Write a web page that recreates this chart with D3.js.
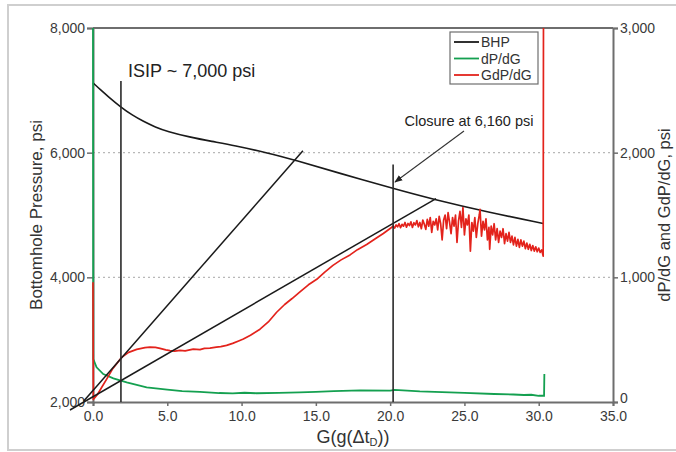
<!DOCTYPE html>
<html>
<head>
<meta charset="utf-8">
<script src="https://cdn.jsdelivr.net/npm/d3@7"></script>
<style>
  html, body { margin: 0; padding: 0; background: #fff; }
  svg { display: block; font-family: "Liberation Sans", Arial, Helvetica, sans-serif; }
</style>
</head>
<body>
<svg id="chart" width="676" height="452"></svg>
<script>
// ---------- data ----------
const xTicks = [0, 5, 10, 15, 20, 25, 30, 35];
const leftTicks = [2000, 4000, 6000, 8000];
const rightTicks = [0, 1000, 2000, 3000];
const gridValues = [4000, 6000];

// Bottomhole pressure [G, psi]
const bhp = [
  [0, 7120], [0.5, 7010], [1.0, 6905], [1.9, 6725], [2.6, 6610], [3.4, 6500],
  [4.2, 6410], [5.0, 6340], [6.5, 6250], [8.0, 6180], [9.5, 6115], [11.7, 6000],
  [13.6, 5880], [16.6, 5670], [20.2, 5424], [22.95, 5248], [26.5, 5050], [30.3, 4864]
];

// dP/dG [G, psi]
const dpdg = [
  [0, 3000], [0.02, 344], [0.24, 278], [0.69, 224], [1.37, 190], [2.27, 157],
  [3.61, 117], [5.0, 100], [6.0, 88], [7.2, 82], [8.5, 72], [9.4, 69], [10.2, 74],
  [11.0, 70], [12.5, 74], [13.9, 77], [15.0, 82], [16.2, 88], [18.0, 94], [20.0, 92],
  [20.3, 98], [22.0, 86], [23.5, 80], [25.0, 74], [27.0, 64], [28.3, 60], [29.0, 56],
  [29.5, 58], [30.0, 50], [30.36, 50], [30.38, 224]
];

// G dP/dG [G, psi]
const gdpdg = [
  [0, 960], [0.02, 20], [0.3, 60], [0.6, 120], [0.92, 184], [1.3, 262], [1.93, 358],
  [2.4, 398], [2.94, 422], [3.5, 436], [3.83, 440], [4.2, 438], [4.51, 430], [4.9, 418],
  [5.18, 412], [5.5, 408], [5.86, 414], [6.2, 410], [6.75, 424], [7.2, 420], [7.5, 430],
  [7.87, 432], [8.3, 440], [8.6, 444], [8.99, 454], [9.4, 470], [9.8, 490], [10.12, 506],
  [10.6, 536], [11.24, 584], [11.8, 642], [12.36, 720], [12.9, 782], [13.4, 830],
  [13.93, 884], [14.5, 940], [15.06, 984], [15.6, 1042], [16.15, 1096], [16.7, 1140],
  [17.3, 1180], [17.8, 1222], [18.42, 1264], [19.0, 1310], [19.54, 1352], [20.0, 1392],
  [20.2, 1410], [20.3, 1395], [20.4, 1420], [20.5, 1405], [20.6, 1430], [20.7, 1398],
  [20.8, 1425], [20.9, 1410], [21.0, 1440], [21.1, 1402], [21.2, 1432], [21.3, 1415],
  [21.4, 1445], [21.5, 1400], [21.6, 1438], [21.7, 1420], [21.8, 1455], [21.9, 1405],
  [22.0, 1440], [22.1, 1390], [22.2, 1460], [22.3, 1425], [22.4, 1385], [22.5, 1465],
  [22.6, 1410], [22.7, 1480], [22.8, 1360], [22.9, 1450], [23.0, 1420], [23.1, 1470],
  [23.2, 1380], [23.3, 1490], [23.4, 1430], [23.5, 1300], [23.6, 1460], [23.7, 1500],
  [23.8, 1390], [23.9, 1520], [24.0, 1440], [24.1, 1350], [24.2, 1480], [24.3, 1410],
  [24.4, 1500], [24.5, 1280], [24.6, 1450], [24.7, 1530], [24.8, 1400], [24.9, 1560],
  [25.0, 1340], [25.1, 1470], [25.2, 1420], [25.3, 1500], [25.4, 1210], [25.5, 1440],
  [25.6, 1370], [25.7, 1480], [25.8, 1320], [25.9, 1430], [26.0, 1500], [26.05, 1545],
  [26.15, 1330], [26.25, 1450], [26.35, 1380], [26.45, 1470], [26.55, 1300], [26.65, 1400],
  [26.7, 1225], [26.8, 1410], [26.9, 1340], [27.0, 1430], [27.1, 1300], [27.2, 1390],
  [27.3, 1280], [27.4, 1370], [27.5, 1320], [27.6, 1390], [27.7, 1270], [27.8, 1350],
  [27.9, 1290], [28.0, 1360], [28.1, 1280], [28.2, 1330], [28.3, 1260], [28.4, 1320],
  [28.5, 1250], [28.6, 1305], [28.7, 1240], [28.8, 1300], [28.9, 1250], [29.0, 1290],
  [29.1, 1230], [29.2, 1275], [29.3, 1225], [29.4, 1265], [29.5, 1215], [29.6, 1255],
  [29.7, 1210], [29.8, 1245], [29.9, 1205], [30.0, 1235], [30.1, 1200], [30.2, 1220],
  [30.3, 1170], [30.32, 3000]
];

// Straight tangent lines on the derivative axis [G, psi]
const steepLine = [[-0.62, 8], [14.13, 2016]];
const shallowLine = [[-1.55, -64], [23.09, 1632]];

// Vertical markers: [G, top pressure on left axis]
const isipMarker = [1.88, 7150];
const closureMarker = [20.2, 5810];

const legendItems = [
  { name: "BHP", color: "#1a1a1a" },
  { name: "dP/dG", color: "#14a050" },
  { name: "GdP/dG", color: "#e3231c" }
];

// ---------- layout ----------
const svg = d3.select("#chart");
const m = { left: 93, right: 613, top: 28, bottom: 402 };

const x = d3.scaleLinear().domain([0, 35]).range([m.left, m.right]);
const yL = d3.scaleLinear().domain([2000, 8000]).range([m.bottom, m.top]);
const yR = d3.scaleLinear().domain([0, 3000]).range([m.bottom, m.top]);

// outer frame
svg.append("rect").attr("x", 8).attr("y", 5).attr("width", 680).attr("height", 445)
  .attr("fill", "none").attr("stroke", "#cfcfcf").attr("stroke-width", 2);

// grid lines
svg.append("g").selectAll("line").data(gridValues).join("line")
  .attr("x1", m.left).attr("x2", m.right)
  .attr("y1", d => yL(d)).attr("y2", d => yL(d))
  .attr("stroke", "#b8b8b8").attr("stroke-width", 1.2).attr("stroke-dasharray", "2,3");

// top frame line
svg.append("line").attr("x1", m.left).attr("x2", m.right).attr("y1", m.top).attr("y2", m.top)
  .attr("stroke", "#6e6e6e").attr("stroke-width", 2);

const axisColor = "#6e6e6e";
const tickColor = "#3a3a3a";
function styleAxis(g) {
  g.select(".domain").attr("stroke", axisColor).attr("stroke-width", 2);
  g.selectAll(".tick line").attr("stroke", axisColor).attr("stroke-width", 1.5);
  g.selectAll(".tick text").attr("fill", tickColor).attr("font-size", 14)
    .attr("font-family", '"Liberation Sans", Arial, sans-serif');
}

svg.append("g").attr("transform", `translate(0,${m.bottom})`)
  .call(d3.axisBottom(x).tickValues(xTicks).tickFormat(d3.format(".1f")).tickSizeOuter(0).tickSize(4).tickPadding(5))
  .call(styleAxis);

svg.append("g").attr("transform", `translate(${m.left},0)`)
  .call(d3.axisLeft(yL).tickValues(leftTicks).tickFormat(d3.format(",")).tickSizeOuter(0).tickSize(6).tickPadding(2))
  .call(styleAxis);

const rAxis = svg.append("g").attr("transform", `translate(${m.right},0)`)
  .call(d3.axisRight(yR).tickValues(rightTicks).tickFormat(d3.format(",")).tickSizeOuter(0).tickSize(5).tickPadding(2))
  .call(styleAxis);
// lift the "0" label slightly so it sits above the 35.0 label
rAxis.selectAll(".tick text").filter(d => d === 0).attr("dy", "0.05em");

// axis titles
svg.append("text").attr("transform", `translate(42,${(m.top + m.bottom) / 2}) rotate(-90)`)
  .attr("text-anchor", "middle").attr("font-size", 17).attr("fill", "#333")
  .text("Bottomhole Pressure, psi");

svg.append("text").attr("transform", `translate(670,${(m.top + m.bottom) / 2}) rotate(-90)`)
  .attr("text-anchor", "middle").attr("font-size", 16.5).attr("fill", "#333")
  .text("dP/dG and GdP/dG, psi");

const xt = svg.append("text").attr("x", (m.left + m.right) / 2).attr("y", 443)
  .attr("text-anchor", "middle").attr("font-size", 18).attr("fill", "#333");
xt.append("tspan").text("G(g(Δt");
xt.append("tspan").attr("font-size", 11).attr("dy", 3).text("D");
xt.append("tspan").attr("dy", -3).text("))");

// series
svg.append("path").datum(bhp)
  .attr("d", d3.line().x(d => x(d[0])).y(d => yL(d[1])).curve(d3.curveBasis))
  .attr("fill", "none").attr("stroke", "#1a1a1a").attr("stroke-width", 1.6);

svg.append("path").datum(dpdg)
  .attr("d", d3.line().x(d => x(d[0])).y(d => yR(d[1])))
  .attr("fill", "none").attr("stroke", legendItems[1].color).attr("stroke-width", 1.8);

svg.append("path").datum(gdpdg)
  .attr("d", d3.line().x(d => x(d[0])).y(d => yR(d[1])))
  .attr("fill", "none").attr("stroke", legendItems[2].color).attr("stroke-width", 1.7)
  .attr("stroke-linejoin", "round");

// tangent lines
[steepLine, shallowLine].forEach(seg => {
  svg.append("path").datum(seg)
    .attr("d", d3.line().x(d => x(d[0])).y(d => yR(d[1])))
    .attr("fill", "none").attr("stroke", "#1a1a1a").attr("stroke-width", 1.5);
});

// vertical markers
[isipMarker, closureMarker].forEach(mk => {
  svg.append("line").attr("x1", x(mk[0])).attr("x2", x(mk[0]))
    .attr("y1", yL(mk[1])).attr("y2", yL(2000))
    .attr("stroke", "#2a2a2a").attr("stroke-width", 1.6);
});

// legend
const lg = svg.append("g");
lg.append("rect").attr("x", 450).attr("y", 32).attr("width", 88).attr("height", 52)
  .attr("fill", "#fff").attr("stroke", "#6e6e6e").attr("stroke-width", 1.2);
legendItems.forEach((it, i) => {
  const yy = 42 + i * 16.5;
  lg.append("line").attr("x1", 454).attr("x2", 479).attr("y1", yy).attr("y2", yy)
    .attr("stroke", it.color).attr("stroke-width", 1.8);
  lg.append("text").attr("x", 481).attr("y", yy + 5).attr("font-size", 14).attr("fill", "#333")
    .text(it.name);
});

// annotations
svg.append("text").attr("x", 128).attr("y", 77).attr("font-size", 18).attr("fill", "#222")
  .text("ISIP ~ 7,000 psi");

svg.append("text").attr("x", 469).attr("y", 126).attr("text-anchor", "middle")
  .attr("font-size", 14.5).attr("fill", "#222").text("Closure at 6,160 psi");

svg.append("defs").append("marker").attr("id", "arr").attr("viewBox", "0 0 10 10")
  .attr("refX", 9).attr("refY", 5).attr("markerWidth", 8).attr("markerHeight", 8)
  .attr("orient", "auto").attr("markerUnits", "userSpaceOnUse")
  .append("path").attr("d", "M0,1 L10,5 L0,9 Z").attr("fill", "#222");

svg.append("line").attr("x1", 464).attr("y1", 131).attr("x2", 395).attr("y2", 182)
  .attr("stroke", "#333").attr("stroke-width", 1.1).attr("marker-end", "url(#arr)");
</script>
</body>
</html>
